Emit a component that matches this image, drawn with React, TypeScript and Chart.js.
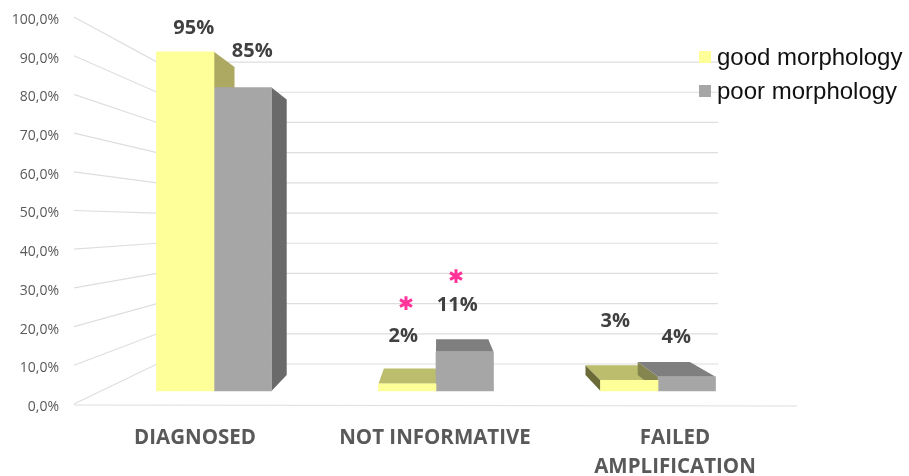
import React, { useEffect, useRef } from "react";
import { Chart, registerables } from "chart.js";

Chart.register(...registerables);

// Chart content
const categories = ["DIAGNOSED", "NOT INFORMATIVE", ["FAILED", "AMPLIFICATION"]];
const seriesNames = ["good morphology", "poor morphology"];
const goodMorphology = [95, 2, 3];
const poorMorphology = [85, 11, 4];
const axisTicks = [0, 10, 20, 30, 40, 50, 60, 70, 80, 90, 100];
const starredBars = [
  { dataset: 0, index: 1 },
  { dataset: 1, index: 1 },
];

// Colours of each series: front, top, right side, left side
const faceColours = [
  { front: "#FFFF99", top: "#BDBD6E", right: "#ADA862", left: "#6B6B38" },
  { front: "#A6A6A6", top: "#7F7F7F", right: "#6A6A6A", left: "#85854F" },
];

// Perspective of the bar depth: receding points converge on a vanishing point
const VANISH_X = 437;
const VANISH_Y = 217;
const DEPTH = 0.908;
const recede = (x: number, y: number): [number, number] => [
  VANISH_X + (x - VANISH_X) * DEPTH,
  VANISH_Y + (y - VANISH_Y) * DEPTH,
];

// Value-label nudges from the bar's top centre, per series then category
const labelNudges = [
  [[8.5, -24], [-4, -48], [-14, -59]],
  [[9.5, -36], [-7.5, -46], [-10.5, -39]],
];
const starNudges = [[-1, -79], [-8.5, -74]];

const WALL_LEFT = 157;
const WALL_RIGHT = 718;
const GRID = "#DEDEDE";

function fillPoly(ctx: CanvasRenderingContext2D, pts: [number, number][], colour: string) {
  ctx.fillStyle = colour;
  ctx.beginPath();
  pts.forEach(([x, y], i) => (i ? ctx.lineTo(x, y) : ctx.moveTo(x, y)));
  ctx.closePath();
  ctx.fill();
}

// Floor, side wall and back wall lines
const wallPlugin = {
  id: "walls",
  beforeDatasetsDraw(chart: any) {
    const { ctx, scales, chartArea } = chart;
    ctx.save();
    ctx.strokeStyle = GRID;
    ctx.lineWidth = 1.2;
    axisTicks.forEach((t) => {
      const yFront = scales.yTicks.getPixelForValue(t);
      const yBack = scales.yBack.getPixelForValue(t);
      ctx.beginPath();
      ctx.moveTo(chartArea.left - 1, yFront - 1);
      ctx.lineTo(WALL_LEFT, yBack);
      ctx.lineTo(WALL_RIGHT, yBack);
      ctx.stroke();
    });
    ctx.beginPath();
    ctx.moveTo(chartArea.left - 1, chartArea.bottom);
    ctx.lineTo(chartArea.right + 2, chartArea.bottom + 1);
    ctx.stroke();
    ctx.restore();
  },
};

// Depth faces of every bar, painted behind the bar fronts
const depthPlugin = {
  id: "depth",
  beforeDatasetsDraw(chart: any) {
    const { ctx } = chart;
    ctx.save();
    chart.data.datasets.forEach((_: any, d: number) => {
      chart.getDatasetMeta(d).data.forEach((bar: any) => {
        const colours = faceColours[d];
        const l = bar.x - bar.width / 2;
        const r = bar.x + bar.width / 2;
        const t = bar.y;
        const b = bar.base;
        if (r < VANISH_X - 5) {
          fillPoly(ctx, [[r, t], recede(r, t), recede(r, b), [r, b]], colours.right);
        }
        if (l > VANISH_X + 5) {
          fillPoly(ctx, [[l, t], recede(l, t), recede(l, b), [l, b]], colours.left);
        }
        if (t > VANISH_Y) {
          fillPoly(ctx, [[l, t], [r, t], recede(r, t), recede(l, t)], colours.top);
        }
      });
    });
    ctx.restore();
  },
};

// Value labels, significance stars and the legend
const annotationPlugin = {
  id: "annotations",
  afterDatasetsDraw(chart: any) {
    const { ctx } = chart;
    ctx.save();
    ctx.textAlign = "center";
    ctx.textBaseline = "middle";
    ctx.font = "bold 20px 'Open Sans'";
    ctx.fillStyle = "#404040";
    chart.data.datasets.forEach((ds: any, d: number) => {
      chart.getDatasetMeta(d).data.forEach((bar: any, i: number) => {
        const [dx, dy] = labelNudges[d][i];
        ctx.fillText(`${ds.data[i].y}%`, bar.x + dx, bar.y + dy);
      });
    });

    ctx.font = "bold 19px 'DejaVu Sans'";
    ctx.fillStyle = "#FF3399";
    starredBars.forEach((s, k) => {
      const bar = chart.getDatasetMeta(s.dataset).data[s.index];
      ctx.fillText("\u2731", bar.x + starNudges[k][0], bar.y + starNudges[k][1]);
    });

    const right = chart.chartArea.right;
    ctx.textAlign = "left";
    ctx.font = "24px 'Liberation Sans'";
    seriesNames.forEach((name, i) => {
      const y = 57 + i * 34;
      ctx.fillStyle = faceColours[i].front;
      ctx.fillRect(right - 96, y - 6, 12, 12);
      ctx.fillStyle = "#111111";
      ctx.fillText(name, right - 78, y + 1);
    });
    ctx.restore();
  },
};

export default function App() {
  const canvasRef = useRef<HTMLCanvasElement>(null);

  useEffect(() => {
    const toPoints = (values: number[]) => values.map((y, x) => ({ x, y }));
    const chart = new Chart(canvasRef.current!, {
      type: "bar",
      data: {
        labels: categories as any,
        datasets: [goodMorphology, poorMorphology].map((values, d) => ({
          label: seriesNames[d],
          data: toPoints(values) as any,
          backgroundColor: faceColours[d].front,
          borderWidth: 0,
          xAxisID: "xBars",
          yAxisID: "y",
          barThickness: 57.5,
        })),
      },
      plugins: [wallPlugin, depthPlugin, annotationPlugin],
      options: {
        responsive: false,
        animation: false,
        layout: { padding: { top: 18, right: 114, left: 0, bottom: 0 } },
        plugins: { legend: { display: false }, tooltip: { enabled: false } },
        scales: {
          // Category names along the front edge of the floor
          x: {
            type: "category",
            position: "bottom",
            offset: true,
            grid: { display: false },
            border: { display: false },
            afterFit: (s: any) => {
              s.height = 71;
            },
            ticks: {
              autoSkip: false,
              maxRotation: 0,
              padding: 10,
              color: "#595959",
              font: { family: "'Open Sans'", size: 20.5, weight: "bold", lineHeight: 1.45 },
            },
          },
          // Bar positions: the group centres sit in the plane of the bars
          xBars: {
            type: "linear",
            display: false,
            offset: false,
            min: -0.626,
            max: 2.617,
          },
          // Percentages printed along the front edge of the side wall
          yTicks: {
            type: "linear",
            position: "left",
            min: 0,
            max: 100,
            grid: { display: false },
            border: { display: false },
            afterFit: (s: any) => {
              s.width = 75;
            },
            ticks: {
              stepSize: 10,
              padding: 8,
              labelOffset: 2,
              color: "#595959",
              font: { family: "'Open Sans'", size: 14 },
              callback: (v: any) => `${Number(v).toFixed(1).replace(".", ",")}%`,
            },
          },
          // Scale in the plane of the bar fronts
          y: { type: "linear", display: false, min: -3.92, max: 104.48 },
          // Scale on the back wall
          yBack: { type: "linear", display: false, min: -13.58, max: 114.6 },
        },
      } as any,
    });
    return () => chart.destroy();
  }, []);

  return (
    <div style={{ position: "absolute", left: 0, top: 0, width: 909, height: 476, background: "#fff" }}>
      <canvas ref={canvasRef} width={909} height={476} style={{ display: "block" }} />
    </div>
  );
}
